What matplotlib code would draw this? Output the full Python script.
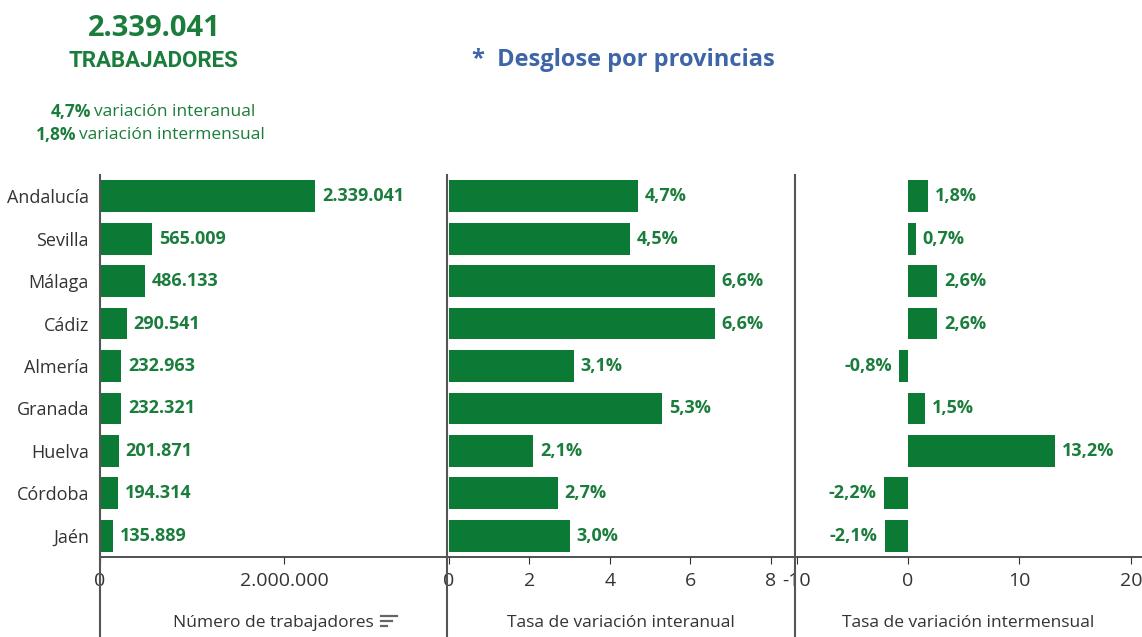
import matplotlib.pyplot as plt
from matplotlib.lines import Line2D

plt.rcParams['font.family'] = ['Open Sans', 'DejaVu Sans']

provincias = ['Andalucía', 'Sevilla', 'Málaga', 'Cádiz', 'Almería',
              'Granada', 'Huelva', 'Córdoba', 'Jaén']
trabajadores = [2339041, 565009, 486133, 290541, 232963, 232321, 201871, 194314, 135889]
interanual = [4.7, 4.5, 6.6, 6.6, 3.1, 5.3, 2.1, 2.7, 3.0]
intermensual = [1.8, 0.7, 2.6, 2.6, -0.8, 1.5, 13.2, -2.2, -2.1]

GREEN = '#0b7a35'
TXT_GREEN = '#1b7d3c'
BLUE = '#3d65a8'
GREY = '#555555'

W, H = 1142, 637


def fx(px):
    return px / W


def fy(py):
    return 1 - py / H


def miles(v):
    return f"{v:,}".replace(',', '.')


def pct(v):
    return f"{v:.1f}".replace('.', ',') + '%'


fig = plt.figure(figsize=(W / 100, H / 100), dpi=100)

top, bottom = 175, 557
panels = [(100, 447), (447, 795), (795, 1142)]
axes = []
for x0, x1 in panels:
    ax = fig.add_axes([fx(x0), fy(bottom), fx(x1 - x0), (bottom - top) / H])
    axes.append(ax)

y = list(range(len(provincias)))
series = [
    (trabajadores, miles, (0, 3.77e6), [0, 2e6], ['0', '2.000.000'], 'Número de trabajadores'),
    (interanual, pct, (-0.05, 8.6), [0, 2, 4, 6, 8], ['0', '2', '4', '6', '8'], 'Tasa de variación interanual'),
    (intermensual, pct, (-10.15, 21.0), [-10, 0, 10, 20], ['-10', '0', '10', '20'], 'Tasa de variación intermensual'),
]

for i, (ax, (vals, fmt, xlim, ticks, tlabels, xlabel)) in enumerate(zip(axes, series)):
    ax.barh(y, vals, height=0.75, color=GREEN)
    ax.set_ylim(len(provincias) - 0.5, -0.5)
    ax.set_xlim(*xlim)
    for yi, v in zip(y, vals):
        off = 5 if v >= 0 else -5
        ax.annotate(fmt(v), (v, yi), xytext=(off, 0), textcoords='offset points',
                    ha='left' if v >= 0 else 'right', va='center',
                    color=TXT_GREEN, fontsize=13, fontweight='bold')
    for s in ['top', 'right', 'left']:
        ax.spines[s].set_visible(False)
    ax.spines['bottom'].set_color('#333333')
    ax.spines['bottom'].set_linewidth(1.2)
    ax.set_xticks(ticks)
    ax.set_xticklabels(tlabels)
    ax.tick_params(axis='x', length=5, color='#333333', pad=6, labelsize=14, labelcolor='#333333')
    ax.set_xlabel(xlabel, fontsize=12.5, color='#333333', labelpad=18)
    if i == 0:
        ax.set_yticks(y)
        ax.set_yticklabels(provincias)
        ax.tick_params(axis='y', length=0, pad=8, labelsize=13, labelcolor='#333333')
    else:
        ax.set_yticks([])

# separadores verticales entre paneles
for x0, _ in panels:
    fig.add_artist(Line2D([fx(x0), fx(x0)], [fy(top), 0], color=GREY, lw=1.5))

# icono de ordenar
for k, ln in enumerate([16, 11, 6]):
    yy = fy(616 + k * 5)
    fig.add_artist(Line2D([fx(381), fx(381 + ln)], [yy, yy], color='#666666', lw=1.6))

# cabecera
fig.text(fx(154), fy(28), '2.339.041', ha='center', va='center',
         fontsize=21, fontweight='bold', color=TXT_GREEN)
fig.text(fx(153), fy(61), 'TRABAJADORES', ha='center', va='center',
         fontsize=16, fontweight='bold', color=TXT_GREEN, family=['Roboto', 'DejaVu Sans'])
fig.text(fx(91), fy(112), '4,7%', ha='right', va='center',
         fontsize=12.5, fontweight='bold', color=TXT_GREEN)
fig.text(fx(94), fy(112), 'variación interanual', ha='left', va='center',
         fontsize=12.5, color=TXT_GREEN)
fig.text(fx(76), fy(135), '1,8%', ha='right', va='center',
         fontsize=12.5, fontweight='bold', color=TXT_GREEN)
fig.text(fx(79), fy(135), 'variación intermensual', ha='left', va='center',
         fontsize=12.5, color=TXT_GREEN)
fig.text(fx(472), fy(60), '*  Desglose por provincias', ha='left', va='center',
         fontsize=17, fontweight='bold', color=BLUE)

fig.savefig('out.png', dpi=100)
